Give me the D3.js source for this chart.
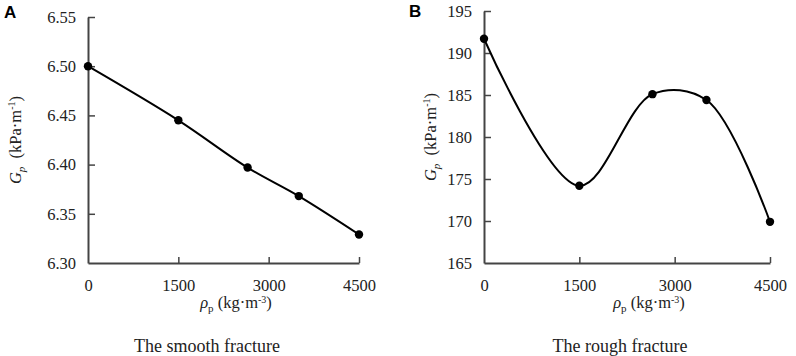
<!DOCTYPE html>
<html>
<head>
<meta charset="utf-8">
<script src="https://cdn.jsdelivr.net/npm/d3@7/dist/d3.min.js"></script>
<style>
  body { margin: 0; background: #fff; }
  svg { display: block; }
</style>
</head>
<body>
<svg id="chart" width="796" height="356"></svg>
<script>
// values
var densities = [0, 1500, 2650, 3500, 4500];
var smoothGp = [6.500, 6.445, 6.397, 6.368, 6.329];
var roughGp = [191.7, 174.2, 185.1, 184.4, 169.9];
var xTicks = [0, 1500, 3000, 4500];
var smoothTicks = [6.30, 6.35, 6.40, 6.45, 6.50, 6.55];
var roughTicks = [165, 170, 175, 180, 185, 190, 195];

var svg = d3.select("#chart");
var axisColor = "#444";
var serif = "'Liberation Serif', 'Times New Roman', serif";

var panels = [
  { letter: "A", letterX: 4, letterY: 18, values: smoothGp, ticks: smoothTicks, fmt: d3.format(".2f"),
    left: 88, right: 359, top: 17, bottom: 263, yLabelX: 15, xTitleX: 236, titleX: 207, title: "The smooth fracture" },
  { letter: "B", letterX: 409, letterY: 17, values: roughGp, ticks: roughTicks, fmt: d3.format("d"),
    left: 484, right: 770, top: 11, bottom: 263, yLabelX: 430, xTitleX: 649, titleX: 620, title: "The rough fracture" }
];

function styleTicks(g) {
  g.attr("font-family", null).attr("font-size", null);
  g.selectAll(".tick text").style("font-family", serif).style("font-size", "16.5px").attr("fill", "#222");
}

panels.forEach(function (p) {
  var x = d3.scaleLinear().domain([0, 4500]).range([p.left, p.right]);
  var y = d3.scaleLinear().domain([p.ticks[0], p.ticks[p.ticks.length - 1]]).range([p.bottom, p.top]);

  // x axis, ticks pointing up into the plot
  var xAxis = d3.axisBottom(x).tickValues(xTicks).tickFormat(d3.format("d")).tickSize(-6).tickPadding(16).tickSizeOuter(0);
  var gx = svg.append("g").attr("transform", "translate(0," + p.bottom + ")").call(xAxis);
  gx.select(".domain").attr("stroke", axisColor).attr("stroke-width", 2);
  gx.selectAll(".tick line").attr("stroke", axisColor).attr("stroke-width", 1.5);
  gx.selectAll(".tick").filter(function (d) { return d === 0; }).select("line").remove();
  styleTicks(gx);

  // y axis, ticks pointing right
  var yAxis = d3.axisLeft(y).tickValues(p.ticks).tickFormat(p.fmt).tickSize(-7).tickPadding(12).tickSizeOuter(0);
  var gy = svg.append("g").attr("transform", "translate(" + p.left + ",0)").call(yAxis);
  gy.select(".domain").attr("stroke", axisColor).attr("stroke-width", 2);
  gy.selectAll(".tick line").attr("stroke", axisColor).attr("stroke-width", 1.5);
  gy.selectAll(".tick").filter(function (d, i) { return i === 0; }).select("line").remove();
  styleTicks(gy);

  var pts = densities.map(function (d, i) { return [x(d), y(p.values[i])]; });

  var line = d3.line().curve(d3.curveCatmullRom.alpha(0.5));
  svg.append("path").attr("d", line(pts)).attr("fill", "none").attr("stroke", "#000").attr("stroke-width", 2);

  svg.selectAll(null).data(pts).enter().append("circle")
    .attr("cx", function (d) { return d[0]; })
    .attr("cy", function (d) { return d[1]; })
    .attr("r", 4.2).attr("fill", "#000");

  // panel letter
  svg.append("text").attr("x", p.letterX).attr("y", p.letterY)
    .style("font-family", "'Liberation Sans', Arial, sans-serif").style("font-weight", "bold").style("font-size", "17px")
    .text(p.letter);

  // y axis title
  var yl = svg.append("text")
    .attr("transform", "translate(" + (p.yLabelX + 6) + "," + ((p.top + p.bottom) / 2) + ") rotate(-90)")
    .attr("text-anchor", "middle")
    .style("font-family", serif).style("font-size", "16.5px").attr("fill", "#222");
  yl.append("tspan").style("font-style", "italic").text("G");
  yl.append("tspan").style("font-style", "italic").style("font-size", "11px").attr("dy", 4).text("p");
  yl.append("tspan").attr("dy", -4).text("\u2002(kPa\u00b7m");
  yl.append("tspan").style("font-size", "10px").attr("dy", -6).text("-1");
  yl.append("tspan").attr("dy", 6).text(")");

  // x axis title
  var xl = svg.append("text").attr("x", p.xTitleX).attr("y", 308).attr("text-anchor", "middle")
    .style("font-family", serif).style("font-size", "16.5px").attr("fill", "#222");
  xl.append("tspan").style("font-style", "italic").text("\u03c1");
  xl.append("tspan").style("font-size", "11px").attr("dy", 4).text("p");
  xl.append("tspan").attr("dy", -4).text(" (kg\u00b7m");
  xl.append("tspan").style("font-size", "10px").attr("dy", -5).text("-3");
  xl.append("tspan").attr("dy", 5).text(")");

  // bottom caption
  svg.append("text").attr("x", p.titleX).attr("y", 352).attr("text-anchor", "middle")
    .style("font-family", serif).style("font-size", "18px").attr("fill", "#222")
    .text(p.title);
});
</script>
</body>
</html>
